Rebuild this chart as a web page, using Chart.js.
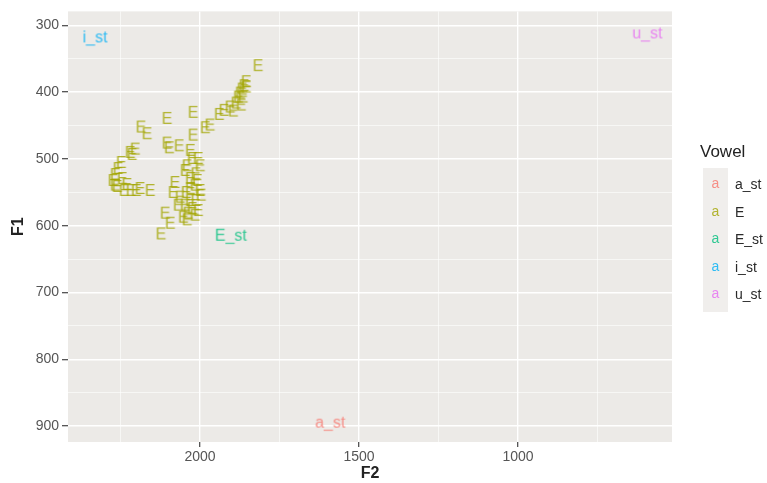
<!DOCTYPE html>
<html>
<head>
<meta charset="utf-8">
<script src="https://cdn.jsdelivr.net/npm/chart.js@4.4.0/dist/chart.umd.min.js"></script>
<style>
  body { margin: 0; background: #fff; font-family: "Liberation Sans", Arial, sans-serif; }
  #wrap { position: relative; width: 767px; height: 483px; }
  #legend { position: absolute; left: 700px; top: 142px; }
  #legend .title { font-size: 17px; color: #222; height: 26px; }
  #legend .keys { background: #F0EEEC; width: 25px; margin-left: 3px; padding: 3px 0; }
  #legend .row { position: relative; height: 27.5px; }
  #legend .row .k { position: absolute; left: 0; width: 25px; text-align: center; top: 4px; font-size: 14px; opacity: 0.8; }
  #legend .row .l { position: absolute; left: 32px; top: 5px; font-size: 14px; color: #2a2a2a; white-space: nowrap; }
</style>
</head>
<body>
<div id="wrap">
  <canvas id="vowelChart" width="767" height="483"></canvas>
  <div id="legend"></div>
</div>
<script>
const vowels = ['a_st', 'E', 'E_st', 'i_st', 'u_st'];
const vowelColors = ['#F8766D', '#A3A500', '#00BF7D', '#00B0F6', '#E76BF3'];

// E tokens
const eF2 = [1818, 1855, 1862, 1868, 1874, 1855, 1880, 1865, 1887, 1871,
             1906, 1925, 1940, 1896, 1969, 1984, 2022, 2104, 2186, 2167,
             2022, 2104, 2097, 2066, 2031, 2025, 2204, 2214, 2248, 2220,
             2258, 2267, 2274, 2261, 2239, 2217, 2201, 2157, 2245, 2041,
             2047, 2013, 2009, 2016, 2031, 2044, 2085, 2063, 2031, 2013,
             2047, 2025, 2006, 2038, 2016, 2041, 2053, 2110, 2094, 2123,
             2000, 1997, 2006, 2000, 2069, 2079, 2230, 2267, 2189, 2031];
const eF1 = [361, 385, 391, 396, 402, 393, 408, 408, 417, 420,
             423, 428, 434, 429, 450, 454, 431, 440, 453, 463,
             465, 477, 484, 481, 488, 500, 486, 494, 506, 491,
             515, 524, 533, 542, 548, 548, 548, 548, 530, 511,
             518, 523, 533, 540, 545, 551, 551, 558, 563, 563,
             570, 575, 578, 582, 585, 592, 588, 582, 597, 613,
             548, 555, 500, 511, 570, 536, 539, 540, 545, 530];

// standard vowels: a_st, E_st, i_st, u_st
const stNames = ['a_st', 'E_st', 'i_st', 'u_st'];
const stF2 = [1591, 1903, 2330, 594];
const stF1 = [895, 615, 318, 312];

const labelFont = '16px "Liberation Sans", Arial, sans-serif';

function labelImage(text, color) {
  const c = document.createElement('canvas');
  let g = c.getContext('2d');
  g.font = labelFont;
  const w = Math.ceil(g.measureText(text).width) + 2;
  c.width = w;
  c.height = 20;
  g = c.getContext('2d');
  g.font = labelFont;
  g.globalAlpha = 0.8;
  g.fillStyle = color;
  g.textAlign = 'center';
  g.textBaseline = 'middle';
  g.fillText(text, w / 2, 11);
  return c;
}

const datasets = [];
datasets.push({
  label: 'E',
  data: eF2.map((x, i) => ({ x: x, y: eF1[i] })),
  pointStyle: labelImage('E', vowelColors[1])
});
stNames.forEach((name, i) => {
  datasets.push({
    label: name,
    data: [{ x: stF2[i], y: stF1[i] }],
    pointStyle: labelImage(name, vowelColors[vowels.indexOf(name)])
  });
});

const panelBg = {
  id: 'panelBg',
  beforeDraw(chart) {
    const a = chart.chartArea;
    const ctx = chart.ctx;
    ctx.save();
    ctx.fillStyle = '#ECEAE7';
    ctx.fillRect(a.left, a.top, a.right - a.left, a.bottom - a.top);
    ctx.restore();
  }
};

const tickFont = { family: '"Liberation Sans", Arial, sans-serif', size: 14 };
const titleFont = { family: '"Liberation Sans", Arial, sans-serif', size: 16, weight: 'bold' };

new Chart(document.getElementById('vowelChart'), {
  type: 'scatter',
  data: { datasets: datasets },
  options: {
    responsive: false,
    animation: false,
    events: [],
    layout: { padding: { top: 8, right: 95, left: 0, bottom: 0 } },
    plugins: { legend: { display: false }, tooltip: { enabled: false } },
    scales: {
      x: {
        type: 'linear',
        reverse: true,
        min: 516,
        max: 2415,
        afterFit: s => { s.height = 41; },
        border: { display: false },
        grid: {
          color: '#fff',
          lineWidth: c => (c.tick && c.tick.value % 500 === 0) ? 1.4 : 0.6,
          tickColor: c => (c.tick && c.tick.value % 500 === 0) ? '#444' : 'rgba(0,0,0,0)',
          tickLength: 5,
          tickWidth: 1.2
        },
        ticks: {
          stepSize: 250,
          includeBounds: false,
          autoSkip: false,
          maxRotation: 0,
          padding: 2,
          color: '#555',
          font: tickFont,
          callback: v => v % 500 === 0 ? v : ''
        },
        title: { display: true, text: 'F2', color: '#222', font: titleFont, padding: { top: 0, bottom: 0 } }
      },
      y: {
        type: 'linear',
        reverse: true,
        min: 279,
        max: 924,
        afterFit: s => { s.width = 68; },
        border: { display: false },
        grid: {
          color: '#fff',
          lineWidth: c => (c.tick && c.tick.value % 100 === 0) ? 1.4 : 0.6,
          tickColor: c => (c.tick && c.tick.value % 100 === 0) ? '#444' : 'rgba(0,0,0,0)',
          tickLength: 6,
          tickWidth: 1.2
        },
        ticks: {
          stepSize: 50,
          includeBounds: false,
          autoSkip: false,
          padding: 3,
          color: '#555',
          font: tickFont,
          callback: v => v % 100 === 0 ? v : ''
        },
        title: { display: true, text: 'F1', color: '#222', font: titleFont, padding: { top: 9, bottom: 0 } }
      }
    }
  },
  plugins: [panelBg]
});

// legend
const legend = document.getElementById('legend');
let html = '<div class="title">Vowel</div><div class="keys">';
vowels.forEach((v, i) => {
  html += '<div class="row"><span class="k" style="color:' + vowelColors[i] + '">a</span>' +
          '<span class="l">' + v + '</span></div>';
});
html += '</div>';
legend.innerHTML = html;
</script>
</body>
</html>
